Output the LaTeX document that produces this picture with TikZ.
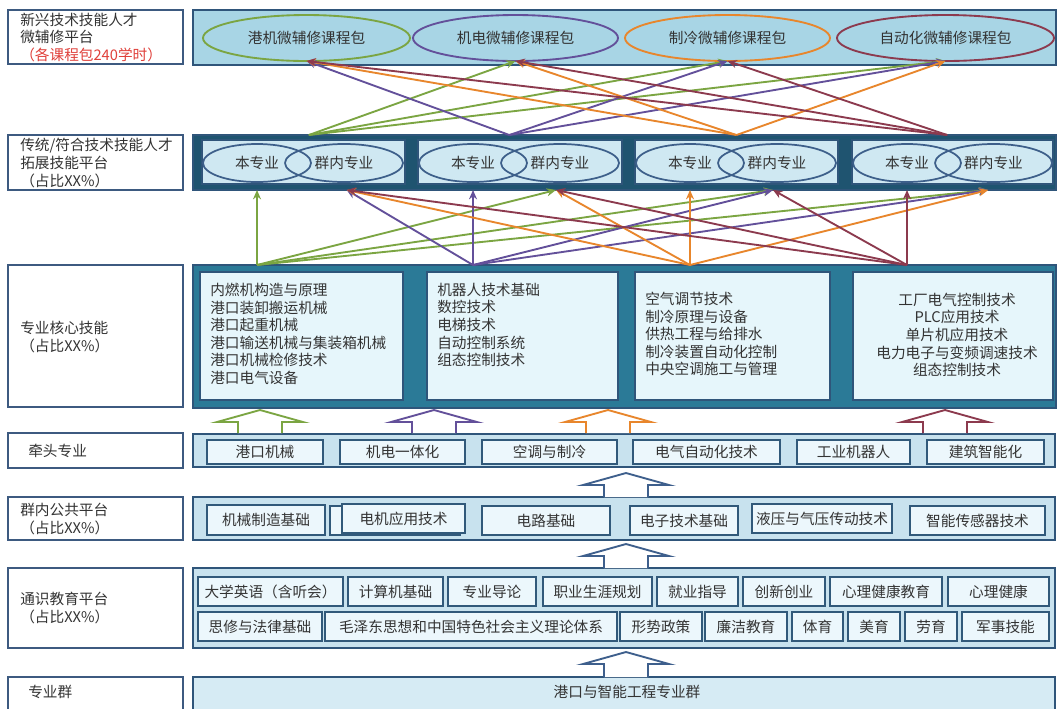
\documentclass[tikz,border=0pt]{standalone}
\usepackage{fontspec}
\setmainfont{Noto Sans CJK SC}
\usetikzlibrary{arrows.meta,shapes.geometric}
\definecolor{lbord}{HTML}{3D5A80}
\definecolor{pbord}{HTML}{2F557A}
\definecolor{topfill}{HTML}{A8D5E5}
\definecolor{darkfill}{HTML}{1F5470}
\definecolor{r2inner}{HTML}{CFE8F2}
\definecolor{r3outer}{HTML}{2B7A97}
\definecolor{r3inner}{HTML}{E6F6FB}
\definecolor{pfill}{HTML}{C8E2EE}
\definecolor{sfill}{HTML}{ECF7FC}
\definecolor{sbord}{HTML}{31597A}
\definecolor{r7fill}{HTML}{D6EBF4}
\definecolor{txtc}{HTML}{333333}
\definecolor{redtxt}{HTML}{E0403A}
\definecolor{cgreen}{HTML}{7BA542}
\definecolor{cpurple}{HTML}{63509A}
\definecolor{corange}{HTML}{E8862C}
\definecolor{cmaroon}{HTML}{8C3A4E}
\definecolor{cblue}{HTML}{3E5F8C}
\definecolor{ellbord}{HTML}{3D5F8A}
\newcommand\mkbox[7]{%
 \pgfmathsetmacro\mkw{(#4-#2)*0.75}%
 \pgfmathsetmacro\mkh{(#5-#3)*0.75}%
 \node[#6, minimum width=\mkw pt, minimum height=\mkh pt, inner sep=0pt, outer sep=0pt, anchor=center] (#1) at ({(#2+#4)/2},{(#3+#5)/2}) {#7};}
\newcommand\hollowup[4]{%
 \draw[#4, line width=1.4pt, fill=white] ({#1-22},#3) -- ({#1-22},{#2+12}) -- ({#1-43},{#2+12}) -- (#1,#2) -- ({#1+43},{#2+12}) -- ({#1+22},{#2+12}) -- ({#1+22},#3);}
\begin{document}
\begin{tikzpicture}[x=0.75pt,y=-0.75pt,
 font=\fontsize{11}{13.2}\selectfont, text=txtc,
 lbox/.style={rectangle, draw=lbord, line width=1.3pt, fill=white},
 topp/.style={rectangle, draw=pbord, line width=1.8pt, fill=topfill},
 darkp/.style={rectangle, draw=pbord, line width=1.5pt, fill=darkfill},
 r2box/.style={rectangle, draw=pbord, line width=0.8pt, fill=r2inner},
 r3p/.style={rectangle, draw=pbord, line width=1.5pt, fill=r3outer},
 r3box/.style={rectangle, draw=pbord, line width=0.8pt, fill=r3inner},
 panel/.style={rectangle, draw=pbord, line width=1.3pt, fill=pfill},
 sbox/.style={rectangle, draw=sbord, line width=1.4pt, fill=sfill},
 r7p/.style={rectangle, draw=pbord, line width=1.3pt, fill=r7fill},
 ell/.style={ellipse, line width=1.4pt},
 sell/.style={ellipse, draw=ellbord, line width=1.3pt},
 ltxt/.style={anchor=west, align=left, inner sep=0pt},
 conn/.style={line width=1.4pt, -{Stealth[length=7pt,width=6pt]}}
]
\useasboundingbox (0,0) rectangle (1059,708);
\fill[white] (0,0) rectangle (1059,708);

% ---------- left labels ----------
\mkbox{L1}{8}{10}{183}{64}{lbox}{}
\mkbox{L2}{8}{135}{183}{190}{lbox}{}
\mkbox{L3}{8}{265}{183}{407}{lbox}{}
\mkbox{L4}{8}{433}{183}{468}{lbox}{}
\mkbox{L5}{8}{497}{183}{540}{lbox}{}
\mkbox{L6}{8}{568}{183}{648}{lbox}{}
\mkbox{L7}{8}{677}{183}{716}{lbox}{}
\node[ltxt] (l1t) at (20,37.5) {新兴技术技能人才\\微辅修平台\\{\color{redtxt}（各课程包240学时）}};
\node[ltxt] (l2t) at (20,163) {传统/符合技术技能人才\\拓展技能平台\\（占比XX\%）};
\node[ltxt] (l3t) at (20,337) {专业核心技能\\（占比XX\%）};
\node[ltxt] (l4t) at (28,451) {牵头专业};
\node[ltxt] (l5t) at (20,519) {群内公共平台\\（占比XX\%）};
\node[ltxt] (l6t) at (20,608) {通识教育平台\\（占比XX\%）};
\node[ltxt] (l7t) at (28,692) {专业群};

% ---------- row 1 ----------
\mkbox{R1}{193}{10}{1056}{65}{topp}{}
\mkbox{e1}{203}{15}{410}{61}{ell,draw=cgreen}{港机微辅修课程包}
\mkbox{e2}{413}{15}{618}{61}{ell,draw=cpurple}{机电微辅修课程包}
\mkbox{e3}{625}{15}{830}{61}{ell,draw=corange}{制冷微辅修课程包}
\mkbox{e4}{837}{15}{1054}{61}{ell,draw=cmaroon}{自动化微辅修课程包}

% ---------- row 2 ----------
\mkbox{R2}{193}{135}{1056}{190}{darkp}{}
\mkbox{b1}{202}{140}{405}{184}{r2box}{}
\mkbox{b2}{418}{140}{622}{184}{r2box}{}
\mkbox{b3}{635}{140}{838}{184}{r2box}{}
\mkbox{b4}{852}{140}{1053}{184}{r2box}{}
\mkbox{o1}{203}{144}{311}{182}{sell}{本专业}
\mkbox{g1}{285}{144}{403}{182}{sell}{群内专业}
\mkbox{o2}{419}{144}{527}{182}{sell}{本专业}
\mkbox{g2}{501}{144}{619}{182}{sell}{群内专业}
\mkbox{o3}{636}{144}{744}{182}{sell}{本专业}
\mkbox{g3}{718}{144}{836}{182}{sell}{群内专业}
\mkbox{o4}{853}{144}{961}{182}{sell}{本专业}
\mkbox{g4}{935}{144}{1052}{182}{sell}{群内专业}

% ---------- row 3 ----------
\mkbox{R3}{193}{265}{1056}{408}{r3p}{}
\mkbox{c1}{200}{272}{403}{400}{r3box}{}
\mkbox{c2}{427}{272}{618}{400}{r3box}{}
\mkbox{c3}{635}{272}{830}{400}{r3box}{}
\mkbox{c4}{853}{272}{1053}{400}{r3box}{}
\node[ltxt] (c1t) at (210,334) {内燃机构造与原理\\港口装卸搬运机械\\港口起重机械\\港口输送机械与集装箱机械\\港口机械检修技术\\港口电气设备};
\node[ltxt] (c2t) at (437,325) {机器人技术基础\\数控技术\\电梯技术\\自动控制系统\\组态控制技术};
\node[ltxt] (c3t) at (645,334) {空气调节技术\\制冷原理与设备\\供热工程与给排水\\制冷装置自动化控制\\中央空调施工与管理};
\node[align=center, inner sep=0pt] (c4t) at (957,335) {工厂电气控制技术\\PLC应用技术\\单片机应用技术\\电力电子与变频调速技术\\组态控制技术};

% ---------- row 4 ----------
\mkbox{R4}{193}{434}{1055}{467}{panel}{}
\mkbox{m1}{207}{440}{323}{464}{sbox}{港口机械}
\mkbox{m2}{340}{440}{465}{464}{sbox}{机电一体化}
\mkbox{m3}{482}{440}{617}{464}{sbox}{空调与制冷}
\mkbox{m4}{633}{440}{780}{464}{sbox}{电气自动化技术}
\mkbox{m5}{797}{440}{910}{464}{sbox}{工业机器人}
\mkbox{m6}{927}{440}{1044}{464}{sbox}{建筑智能化}

% ---------- row 5 ----------
\mkbox{R5}{193}{497}{1055}{540}{panel}{}
\mkbox{p1}{207}{505}{325}{535}{sbox}{机械制造基础}
\mkbox{p2b}{330}{506}{460}{535}{sbox}{}
\mkbox{p2}{342}{504}{465}{533}{sbox}{电机应用技术}
\mkbox{p3}{482}{506}{610}{535}{sbox}{电路基础}
\mkbox{p4}{630}{506}{738}{535}{sbox}{电子技术基础}
\mkbox{p5}{752}{504}{892}{533}{sbox}{液压与气压传动技术}
\mkbox{p6}{910}{506}{1045}{535}{sbox}{智能传感器技术}

% ---------- row 6 ----------
\mkbox{R6}{193}{568}{1055}{648}{panel}{}
\mkbox{q1}{198}{577}{343}{606}{sbox}{大学英语（含听会）}
\mkbox{q2}{348}{577}{443}{606}{sbox}{计算机基础}
\mkbox{q3}{448}{577}{536}{606}{sbox}{专业导论}
\mkbox{q4}{543}{577}{652}{606}{sbox}{职业生涯规划}
\mkbox{q5}{657}{577}{738}{606}{sbox}{就业指导}
\mkbox{q6}{743}{577}{825}{606}{sbox}{创新创业}
\mkbox{q7}{830}{577}{942}{606}{sbox}{心理健康教育}
\mkbox{q8}{948}{577}{1049}{606}{sbox}{心理健康}
\mkbox{w1}{198}{612}{322}{641}{sbox}{思修与法律基础}
\mkbox{w2}{325}{612}{617}{641}{sbox}{毛泽东思想和中国特色社会主义理论体系}
\mkbox{w3}{620}{612}{702}{641}{sbox}{形势政策}
\mkbox{w4}{705}{612}{787}{641}{sbox}{廉洁教育}
\mkbox{w5}{792}{612}{843}{641}{sbox}{体育}
\mkbox{w6}{848}{612}{900}{641}{sbox}{美育}
\mkbox{w7}{905}{612}{957}{641}{sbox}{劳育}
\mkbox{w8}{962}{612}{1049}{641}{sbox}{军事技能}

% ---------- row 7 ----------
\mkbox{R7}{193}{677}{1055}{716}{r7p}{}
\node (r7t) at (627,692) {港口与智能工程专业群};

% ---------- hollow block arrows ----------
\hollowup{260}{410}{433}{cgreen}
\hollowup{434}{410}{433}{cpurple}
\hollowup{608}{410}{433}{corange}
\hollowup{945}{410}{433}{cmaroon}
\hollowup{626}{473}{497}{cblue}
\hollowup{626}{544}{568}{cblue}
\hollowup{626}{652}{677}{cblue}

% ---------- connectors row 3 -> row 2 ----------
\coordinate (u1) at (o1 |- R3.north);
\coordinate (u2) at (o2 |- R3.north);
\coordinate (u3) at (o3 |- R3.north);
\coordinate (u4) at (o4 |- R3.north);
\coordinate (o1t) at (o1 |- R2.south);
\coordinate (o2t) at (o2 |- R2.south);
\coordinate (o3t) at (o3 |- R2.south);
\coordinate (o4t) at (o4 |- R2.south);
\coordinate (g1t) at ([xshift=2pt]g1 |- R2.south);
\coordinate (g2t) at ([xshift=-3pt]g2 |- R2.south);
\coordinate (g3t) at ([xshift=-3pt]g3 |- R2.south);
\coordinate (g4t) at ([xshift=-4pt]g4 |- R2.south);
\draw[conn, cgreen] (u1) -- (o1t);
\draw[conn, cgreen] (u1) -- (g2t);
\draw[conn, cgreen] (u1) -- (g3t);
\draw[conn, cgreen] (u1) -- (g4t);
\draw[conn, cpurple] (u2) -- (o2t);
\draw[conn, cpurple] (u2) -- (g1t);
\draw[conn, cpurple] (u2) -- (g3t);
\draw[conn, cpurple] (u2) -- (g4t);
\draw[conn, corange] (u3) -- (o3t);
\draw[conn, corange] (u3) -- (g1t);
\draw[conn, corange] (u3) -- (g2t);
\draw[conn, corange] (u3) -- (g4t);
\draw[conn, cmaroon] (u4) -- (o4t);
\draw[conn, cmaroon] (u4) -- (g1t);
\draw[conn, cmaroon] (u4) -- (g2t);
\draw[conn, cmaroon] (u4) -- (g3t);

% ---------- connectors row 2 -> row 1 ----------
\coordinate (t1) at ([xshift=4pt]b1 |- R2.north);
\coordinate (t2) at ([xshift=-8pt]b2 |- R2.north);
\coordinate (t3) at (b3 |- R2.north);
\coordinate (t4) at ([xshift=-4pt]b4 |- R2.north);
\draw[conn, cgreen] (t1) -- (e2.south);
\draw[conn, cgreen] (t1) -- (e3.south);
\draw[conn, cgreen] (t1) -- (e4.south);
\draw[conn, cpurple] (t2) -- (e1.south);
\draw[conn, cpurple] (t2) -- (e3.south);
\draw[conn, cpurple] (t2) -- (e4.south);
\draw[conn, corange] (t3) -- (e1.south);
\draw[conn, corange] (t3) -- (e2.south);
\draw[conn, corange] (t3) -- (e4.south);
\draw[conn, cmaroon] (t4) -- (e1.south);
\draw[conn, cmaroon] (t4) -- (e2.south);
\draw[conn, cmaroon] (t4) -- (e3.south);
\end{tikzpicture}
\end{document}
